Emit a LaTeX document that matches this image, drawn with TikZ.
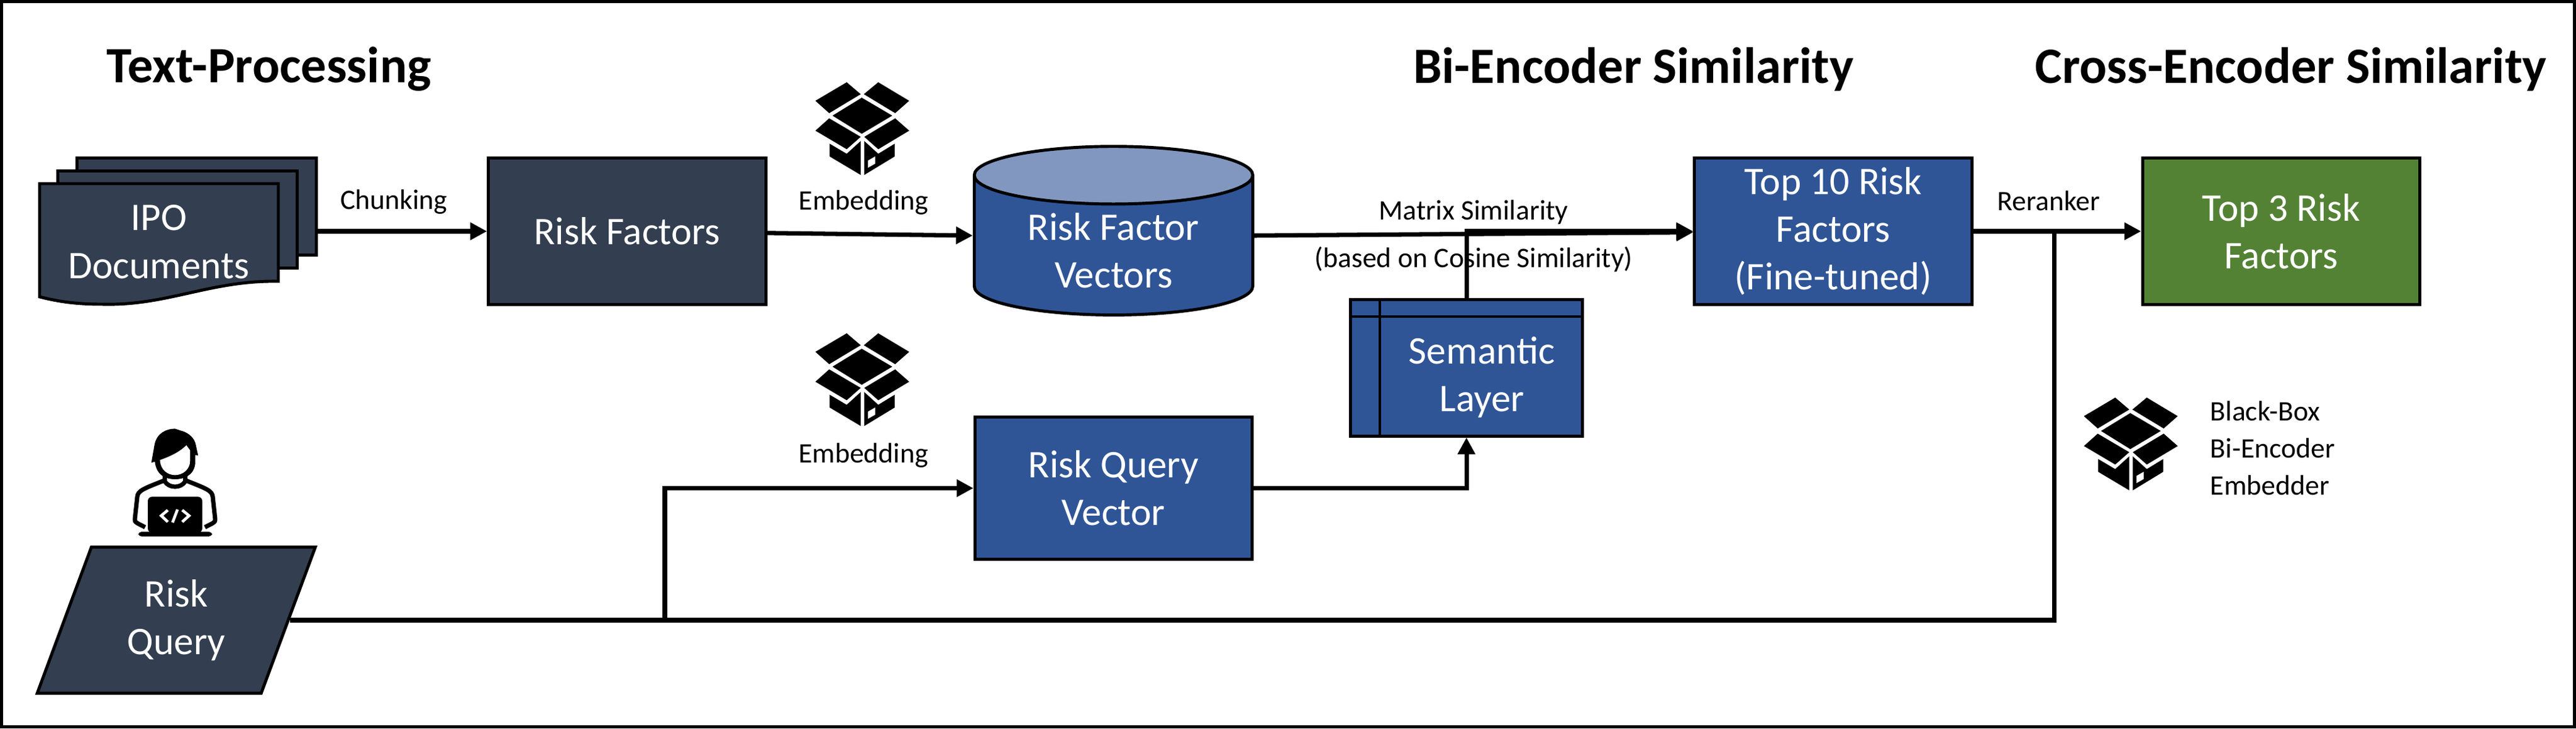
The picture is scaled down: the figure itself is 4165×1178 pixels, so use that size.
\documentclass[tikz,border=0pt]{standalone}
\usepackage{fontspec}
\setmainfont{Carlito}
\usepackage{xcolor}
\usepackage{tikz}
\usetikzlibrary{shapes,arrows.meta,positioning}

\definecolor{slatebox}{HTML}{333F50}
\definecolor{bluebox}{HTML}{2F5597}
\definecolor{bluetop}{HTML}{8297BF}
\definecolor{greenbox}{HTML}{548235}

\begin{document}
\begin{tikzpicture}[x=0.01cm, y=-0.01cm,
    box/.style={rectangle, draw, line width=1.4pt, text=white, align=center, minimum width=4.48cm, minimum height=2.36cm, font=\fontsize{18}{22}\selectfont},
    page/.style={rectangle, draw, fill=slatebox, line width=1.4pt, minimum width=3.86cm},
    arrow/.style={-{Triangle[length=0.27cm,width=0.27cm]}, line width=2pt},
    wire/.style={line width=2pt},
    title/.style={font=\fontsize{23.4}{26}\bfseries\selectfont},
    tag/.style={font=\fontsize{13}{15}\selectfont, inner sep=0pt, align=left},
    boxicon/.pic={
        \begin{scope}[scale=1/3]
        \fill (-2,-150) -- (146,-63) -- (-2,25) -- (-144,-63) -- cycle;
        \fill (160,-50) -- (228,10) -- (78,100) -- (10,40) -- cycle;
        \fill (-160,-50) -- (-227,10) -- (-75,100) -- (-7,40) -- cycle;
        \fill (-160,-75) -- (-227,-135) -- (-75,-225) -- (-7,-167) -- cycle;
        \fill (160,-75) -- (228,-135) -- (78,-225) -- (8,-167) -- cycle;
        \fill (-158,73) -- (-75,122) -- (-7,60) -- (-7,225) -- (-158,135) -- cycle;
        \fill (158,73) -- (78,122) -- (10,60) -- (10,225) -- (158,135) -- cycle;
        \fill[white] (28,155) -- (63,135) -- (63,170) -- (28,190) -- cycle;
        \end{scope}
    },
    coder/.pic={
        \begin{scope}[scale=1/3]
        % shoulders and collar
        \draw[line width=2pt, line join=round] (-145,218) -- (-180,200) .. controls (-195,190) .. (-195,180) -- (-183,70) .. controls (-180,40) and (-150,30) .. (-55,-8);
        \draw[line width=2pt, line join=round] (145,218) -- (180,200) .. controls (195,190) .. (195,180) -- (183,70) .. controls (180,40) and (150,30) .. (55,-8);
        \draw[line width=2pt] (-50,-40) -- (-50,-5) .. controls (-30,30) and (30,30) .. (50,-5) -- (50,-40);
        % head and hair
        \fill (-115,-95) -- (-100,-180) .. controls (-90,-240) and (-40,-260) .. (0,-260) -- (30,-250) .. controls (70,-240) and (95,-210) .. (100,-185) -- (112,-130) -- (98,-132) -- (98,-90) .. controls (90,-30) and (40,-15) .. (0,-15) .. controls (-40,-15) and (-90,-30) .. (-98,-100) -- cycle;
        \fill[white] (-73,-105) .. controls (-70,-60) and (-35,-35) .. (0,-35) .. controls (35,-35) and (73,-60) .. (73,-105) -- (73,-155) -- (55,-180) .. controls (20,-145) and (-25,-125) .. (-73,-108) -- cycle;
        % laptop
        \fill[rounded corners=2pt] (-132,70) rectangle (132,245);
        \fill[rounded corners=1.5pt] (-178,240) rectangle (180,263);
        \draw[white, line width=1.3pt] (-35,135) -- (-67,162) -- (-35,192);
        \draw[white, line width=1.3pt] (35,135) -- (68,162) -- (35,192);
        \draw[white, line width=1.3pt] (12,132) -- (-12,195);
        \end{scope}
    }]

    \useasboundingbox (0,0) rectangle (4165,1178);
    \draw[line width=1.4pt] (2.5,2.5) rectangle (4162.5,1175.5);

    % Titles
    \node[title] (titletext) at (435,112) {Text-Processing};
    \node[title] (titlebi) at (2641,112) {Bi-Encoder Similarity};
    \node[title] (titlecross) at (3704,112) {Cross-Encoder Similarity};

    % IPO documents
    \node[page, minimum height=1.57cm] (pageback) at (318,334) {};
    \node[page, minimum height=1.57cm] (pagemid) at (287,355) {};
    \draw[fill=slatebox, line width=1.4pt] (64,297) -- (450,297) -- (450,455) .. controls (340,453) and (270,495) .. (165,492) .. controls (125,492) and (95,488) .. (64,480) -- cycle;
    \node[box, draw=none, minimum width=0pt, minimum height=0pt] (docs) at (257,391) {IPO\\Documents};

    % Main row
    \node[box, fill=slatebox] (riskfactors) at (1014,374) {Risk Factors};
    \node[box, cylinder, shape border rotate=90, shape aspect=0.31, cylinder uses custom fill, cylinder body fill=bluebox, cylinder end fill=bluetop, minimum width=4.5cm, minimum height=2.62cm, right=3.32cm of riskfactors, yshift=-0.31cm] (vectors) {Risk Factor\\Vectors};
    \node[box, fill=bluebox, right=14.96cm of riskfactors] (topten) {Top 10 Risk\\Factors\\(Fine-tuned)};
    \node[box, fill=greenbox, right=2.71cm of topten] (topthree) {Top 3 Risk\\Factors};

    % Query row
    \node[box, fill=bluebox, minimum height=2.3cm, below=1.6cm of vectors] (queryvec) {Risk Query\\Vector};
    \node[box, fill=slatebox, trapezium, trapezium left angle=69.5, trapezium right angle=110.5, trapezium stretches=true, minimum width=4.5cm, minimum height=2.36cm] (riskquery) at (285,1003) {Risk\\Query};

    % Semantic layer
    \node[box, fill=bluebox, minimum width=3.74cm, minimum height=2.2cm] (semantic) at (2371,595) {};
    \draw[line width=1.4pt] (2231,483) -- (2231,707);
    \draw[line width=1.4pt] (2182,512) -- (2561,512);
    \node[box, draw=none, minimum width=0pt, minimum height=0pt] (semantictext) at (2396,610) {Semantic\\Layer};

    % Icons
    \pic at (1394,208) {boxicon};
    \pic at (1394,614) {boxicon};
    \pic at (3445,718) {boxicon};
    \pic at (283,780) {coder};

    % Legend
    \node[tag, right] (legend) at (3573,725) {Black-Box\\[2pt]Bi-Encoder\\[2pt]Embedder};

    % Arrows
    \coordinate (rerank) at (3321,374);
    \coordinate (branch) at (1075,1003);
    \draw[arrow] (pageback.east |- riskfactors.west) -- node[tag, above=0.24cm, pos=0.45] (chunking) {Chunking} (riskfactors);
    \draw[arrow] (riskfactors) -- node[tag, above=0.28cm, pos=0.47] (embedone) {Embedding} ([yshift=0.24cm]vectors.west);
    \draw[arrow] ([yshift=0.24cm]vectors.east) -- node[tag, above=0.12cm] (matrix) {Matrix Similarity} node[tag, below=0.17cm] (cosine) {(based on Cosine Similarity)} (topten);
    \draw[arrow] (semantic.north) |- (topten);
    \draw[arrow] (queryvec) -| (semantic.south);
    \draw[arrow] (topten) -- node[tag, above=0.3cm, pos=0.45] (reranker) {Reranker} (topthree);
    \draw[wire] (riskquery.east) -| (rerank);
    \draw[arrow] (branch) |- (queryvec);
    \node[tag] (embedtwo) at (1396,737) {Embedding};

\end{tikzpicture}
\end{document}
